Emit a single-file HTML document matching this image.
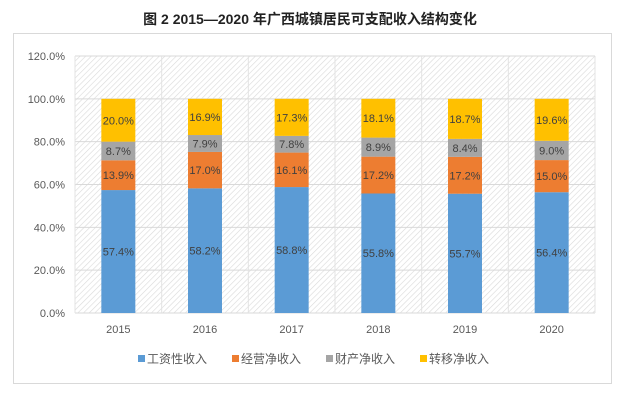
<!DOCTYPE html>
<html><head><meta charset="utf-8"><style>
body{margin:0;background:#fff;font-family:"Liberation Sans","Noto Sans CJK SC",sans-serif}
</style></head><body>
<svg width="618" height="406" xmlns="http://www.w3.org/2000/svg">
<defs><pattern id="hatch" width="4" height="4" patternUnits="userSpaceOnUse" patternTransform="rotate(45)"><rect width="4" height="4" fill="#fff"/><line x1="0" y1="0" x2="0" y2="4" stroke="#d9d9d9" stroke-width="1.2"/></pattern></defs>
<text x="310" y="24" text-anchor="middle" font-size="14" font-weight="bold" fill="#222" font-family="Liberation Sans, Noto Sans CJK SC, sans-serif">图 2 2015—2020 年广西城镇居民可支配收入结构变化</text>
<rect x="13.5" y="33.5" width="598" height="350" fill="#fff" stroke="#d9d9d9"/>
<rect x="75" y="56" width="520" height="257" fill="url(#hatch)"/>
<g id="grid"></g><g id="bars"></g><g id="axes"></g><g id="legend"></g>
</svg>
<script>
const years=["2015","2016","2017","2018","2019","2020"];
const wage=[57.4,58.2,58.8,55.8,55.7,56.4];
const business=[13.9,17.0,16.1,17.2,17.2,15.0];
const property=[8.7,7.9,7.8,8.9,8.4,9.0];
const transfer=[20.0,16.9,17.3,18.1,18.7,19.6];
const yTicks=[0,20,40,60,80,100,120];
const seriesNames=["工资性收入","经营净收入","财产净收入","转移净收入"];
const colors=["#5b9bd5","#ed7d31","#a5a5a5","#ffc000"];
const NS="http://www.w3.org/2000/svg";
const x0=75,x1=595,yb=313,yt=56;
const y=v=>yb-(v/120)*(yb-yt);
const slot=(x1-x0)/years.length;
const xc=i=>x0+slot*(i+0.5);
function mk(t,a,p){const e=document.createElementNS(NS,t);for(const k in a)e.setAttribute(k,a[k]);p.appendChild(e);return e;}
const grid=document.getElementById('grid'),bars=document.getElementById('bars'),axes=document.getElementById('axes'),leg=document.getElementById('legend');
yTicks.forEach(v=>{
 const l=mk('line',{x1:x0,x2:x1,y1:y(v),y2:y(v),stroke:'#d9d9d9'},grid);
 
 
 const t=mk('text',{x:65,y:y(v)+4,'text-anchor':'end','font-size':11,fill:'#595959'},axes);
 t.textContent=v.toFixed(1)+'%';
 
 
});
for(let i=0;i<=years.length;i++){
 const l=mk('line',{x1:x0+slot*i,x2:x0+slot*i,y1:yt,y2:yb,stroke:'#e3e3e3'},grid);
 
 
}
const series=[wage,business,property,transfer];
years.forEach((yr,i)=>{
 let base=0;
 series.forEach((s,k)=>{
  const v=s[i];
  const r=mk('rect',{x:xc(i)-17,width:34,y:y(base+v),height:y(base)-y(base+v),fill:colors[k]},bars);
  
  
  const t=mk('text',{x:xc(i),y:(y(base)+y(base+v))/2+4,'text-anchor':'middle','font-size':11,fill:'#404040'},bars);
  t.textContent=v.toFixed(1)+'%';
  
  
  base+=v;
 });
 const t=mk('text',{x:xc(i),y:333,'text-anchor':'middle','font-size':11,fill:'#595959'},axes);
 t.textContent=yr;
 
 
});
const lx=[138,232,326,420];
seriesNames.forEach((n,k)=>{
 const r=mk('rect',{x:lx[k],y:355,width:7,height:7,fill:colors[k]},leg);
 
 
 const t=mk('text',{x:lx[k]+9,y:363,'font-size':12,fill:'#595959'},leg);
 t.textContent=n;
 
 
});
</script>
</body></html>
